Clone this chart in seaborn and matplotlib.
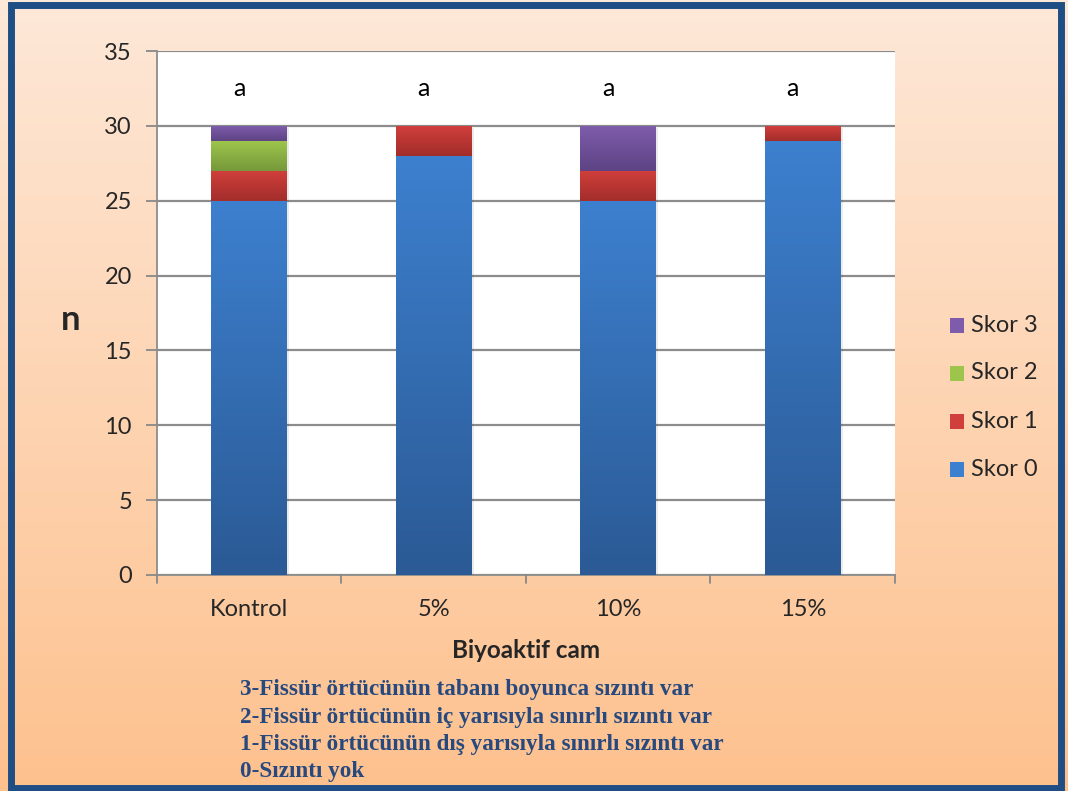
import numpy as np
import pandas as pd
import matplotlib
matplotlib.use("Agg")
import matplotlib.pyplot as plt
import matplotlib.colors as mcolors
from matplotlib.patches import Rectangle
import seaborn as sns

# Data
groups = ["Kontrol", "5%", "10%", "15%"]
skor0 = [25, 28, 25, 29]
skor1 = [2, 2, 2, 1]
skor2 = [2, 0, 0, 0]
skor3 = [1, 0, 3, 0]
series_names = ["Skor 0", "Skor 1", "Skor 2", "Skor 3"]
group_letters = ["a", "a", "a", "a"]
yticks = [0, 5, 10, 15, 20, 25, 30, 35]
notes = [
    "3-Fissür örtücünün tabanı boyunca sızıntı var",
    "2-Fissür örtücünün iç yarısıyla sınırlı sızıntı var",
    "1-Fissür örtücünün dış yarısıyla sınırlı sızıntı var",
    "0-Sızıntı yok",
]

# (top, bottom) shades of each series
shades = {
    "Skor 0": ("#3D80CF", "#2B5A95"),
    "Skor 1": ("#D03F3B", "#A22D2B"),
    "Skor 2": ("#9DC54B", "#76983A"),
    "Skor 3": ("#7E5CAB", "#5D4384"),
}

sns.set_theme(style="white")
plt.rcParams["font.family"] = ["Lato", "DejaVu Sans"]

fig = plt.figure(figsize=(10.68, 7.91), dpi=100)

# Peach gradient background
bg = fig.add_axes([0, 0, 1, 1], zorder=-10)
grad = np.linspace(0, 1, 256).reshape(-1, 1)
bg_cmap = mcolors.LinearSegmentedColormap.from_list("bg", ["#FEE8D8", "#FDC18E"])
bg.imshow(grad, aspect="auto", cmap=bg_cmap, extent=[0, 1, 0, 1], origin="upper")
bg.set_axis_off()

# Frame around the card
fig.patches.append(Rectangle((0.0105, 0.0035), 0.983, 0.990, transform=fig.transFigure,
                             fill=False, edgecolor="#1F4E85", linewidth=5, zorder=5))

ax = fig.add_axes([0.147, 0.2731, 0.691, 0.6624])
ax.set_facecolor("white")

df = pd.DataFrame({"group": groups, "Skor 0": skor0, "Skor 1": skor1,
                   "Skor 2": skor2, "Skor 3": skor3})
bottom = np.zeros(len(groups))
for name in series_names:
    vals = np.array(df[name], dtype=float)
    sns.barplot(data=df, x="group", y=name, order=groups, color=shades[name][0],
                bottom=bottom, width=0.41, ax=ax, errorbar=None, saturation=1,
                linewidth=0, label=name, zorder=3)
    bottom = bottom + vals

# Vertical shading inside each bar segment
patches = [p for p in ax.patches]
idx = 0
for name in series_names:
    top_c, bot_c = shades[name]
    cmap = mcolors.LinearSegmentedColormap.from_list(name, [top_c, bot_c])
    for _ in groups:
        p = patches[idx]
        idx += 1
        h = p.get_height()
        if h <= 0:
            continue
        x0, y0, w = p.get_x(), p.get_y(), p.get_width()
        im = ax.imshow(grad, aspect="auto", cmap=cmap, origin="upper",
                       extent=[x0, x0 + w, y0, y0 + h], zorder=4)
        im.set_clip_path(p)
        # soft shadow beside the bar
        ax.add_patch(Rectangle((x0 + 0.012, y0 - 0.15), w, h, facecolor="#000000",
                               alpha=0.08, linewidth=0, zorder=2.5))

ax.set_xlim(-0.5, len(groups) - 0.5)
ax.set_ylim(0, 35)
ax.set_yticks(yticks)
ax.set_yticklabels([str(t) for t in yticks], fontsize=17)
ax.tick_params(axis="y", length=8, width=1.3, color="#888888", pad=10, left=True)
ax.set_xticks(range(len(groups)))
ax.set_xticklabels(groups, fontsize=17)
ax.tick_params(axis="x", length=0, pad=17)
# boundary ticks between categories
for xb in np.arange(-0.5, len(groups), 1.0):
    ax.plot([xb, xb], [0, -0.55], color="#888888", lw=1.3, clip_on=False, zorder=5)

for t in yticks:
    ax.axhline(t, color="#8C8C8C", lw=1.6, zorder=1)

for s in ["top", "right"]:
    ax.spines[s].set_visible(False)
ax.spines["left"].set_color("#8C8C8C")
ax.spines["left"].set_linewidth(1.3)
ax.spines["bottom"].set_color("#8C8C8C")
ax.spines["bottom"].set_linewidth(1.3)

for i, letter in enumerate(group_letters):
    ax.text(i - 0.055, 32.5, letter, ha="center", va="center", fontsize=18, color="black")

ax.set_xlabel("Biyoaktif cam", fontsize=17.5, fontweight="bold", labelpad=14)
ax.set_ylabel("")
fig.text(0.066, 0.595, "n", fontsize=25, fontweight="bold", ha="center", va="center")

if ax.legend_ is not None:
    ax.legend_.remove()

# Legend on the right, top series first
leg_y = [325, 373, 421, 469]
for name, y in zip(reversed(series_names), leg_y):
    yf = 1 - y / 791
    fig.patches.append(Rectangle((950 / 1068, yf - 8 / 791), 14 / 1068, 15 / 791,
                                 transform=fig.transFigure, facecolor=shades[name][0],
                                 edgecolor="none", zorder=6))
    fig.text(971 / 1068, yf, name, fontsize=17, ha="left", va="center")

# Score descriptions
for i, line in enumerate(notes):
    fig.text(240 / 1068, 1 - (690 + 27.3 * i) / 791, line, fontsize=16.7,
             fontweight="bold", color="#27497D", family="Liberation Serif",
             ha="left", va="center")

fig.savefig("out.png", dpi=100)
